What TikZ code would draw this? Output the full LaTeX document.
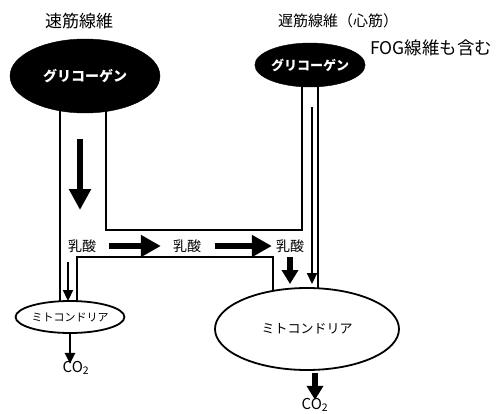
\documentclass[tikz,border=0pt]{standalone}
\usepackage{fontspec}
\setmainfont{Noto Sans CJK JP}
\usetikzlibrary{shapes.geometric,arrows.meta}
\newcommand{\fsz}[1]{\fontsize{#1}{#1}\selectfont}
\tikzset{
  chan/.style={line width=1.5pt},
  blackell/.style={ellipse,fill=black,draw=black,inner sep=0pt,text=white},
  mitoell/.style={ellipse,fill=white,draw=black,line width=1.8pt,inner sep=0pt},
  lbl/.style={inner sep=0pt},
  ttl/.style={inner sep=0pt},
  bigarrow/.style={line width=6.5pt,-{Triangle[width=21pt,length=21pt]}},
  midarrow/.style={line width=6pt,-{Triangle[width=16pt,length=14pt]}},
  thinarrow/.style={line width=2.2pt,-{Triangle[width=10pt,length=11pt]}},
}
\begin{document}
\begin{tikzpicture}[x=1pt,y=-1pt]
\useasboundingbox (0,0) rectangle (497,414);
% channel coordinates
\coordinate (a1) at (60,100);  \coordinate (a2) at (60,305);
\coordinate (b1) at (106,100); \coordinate (b2) at (106,230);
\coordinate (b3) at (302,230); \coordinate (b4) at (302,80);
\coordinate (c1) at (318,80);  \coordinate (c2) at (318,295);
\coordinate (d1) at (77,305);  \coordinate (d2) at (77,257);
\coordinate (d3) at (273,257); \coordinate (d4) at (273,295);
\draw[chan] (a1) -- (a2);
\draw[chan] (b1) -- (b2) -- (b3) -- (b4);
\draw[chan] (c1) -- (c2);
\draw[chan] (d1) -- (d2) -- (d3) -- (d4);
% ellipses
\node[blackell,minimum width=150pt,minimum height=74pt] (gL) at (85,76) {\fsz{14}\bfseries グリコーゲン};
\node[blackell,minimum width=106pt,minimum height=44pt] (gR) at (310,65) {\fsz{13}\bfseries グリコーゲン};
\node[mitoell,minimum width=86pt,minimum height=32pt] (mS) at (70,317) {\fsz{11}ミトコンドリア};
\node[mitoell,minimum width=184pt,minimum height=82pt] (mB) at (307,329) {\fsz{13}ミトコンドリア};
% titles
\node[ttl] (t1) at (79,21) {\fsz{17}速筋線維};
\node[ttl] (t2) at (338,21) {\fsz{15}遅筋線維（心筋）};
\node[ttl] (t3) at (431,48) {\fsz{17.5}FOG線維も含む};
% lactate labels
\node[lbl] (l1) at (82,246) {\fsz{14}乳酸};
\node[lbl] (l2) at (187,246) {\fsz{14}乳酸};
\node[lbl] (l3) at (290,246) {\fsz{14}乳酸};
% CO2 labels
\node[lbl] (co1) at (76,368) {\fsz{15}CO\textsubscript{2}};
\node[lbl] (co2) at (315,405) {\fsz{15}CO\textsubscript{2}};
% arrows
\coordinate (p1) at (80,139); \coordinate (p2) at (80,210);
\draw[bigarrow] (p1) -- (p2);
\draw[midarrow,-{Triangle[width=21pt,length=20pt]}] ([xshift=13pt]l1.east) -- ([xshift=-12pt]l2.west);
\draw[midarrow,-{Triangle[width=21pt,length=20pt]}] ([xshift=14pt]l2.east) -- ([xshift=-4pt]l3.west);
\coordinate (q1) at (290,257); \coordinate (q2) at (290,284);
\draw[midarrow] (q1) -- (q2);
\coordinate (r1) at (312,107); \coordinate (r2) at (312,284);
\draw[thinarrow] (r1) -- (r2);
\coordinate (s1) at (68,262); \coordinate (s2) at (68,301);
\draw[thinarrow] (s1) -- (s2);
\draw[thinarrow,line width=2.8pt] (mS.south) -- ([yshift=-3pt]co1.north -| mS.south);
\draw[midarrow] ([yshift=-2pt]mB.south -| co2) -- ([yshift=-2pt]co2.north);
\end{tikzpicture}
\end{document}
